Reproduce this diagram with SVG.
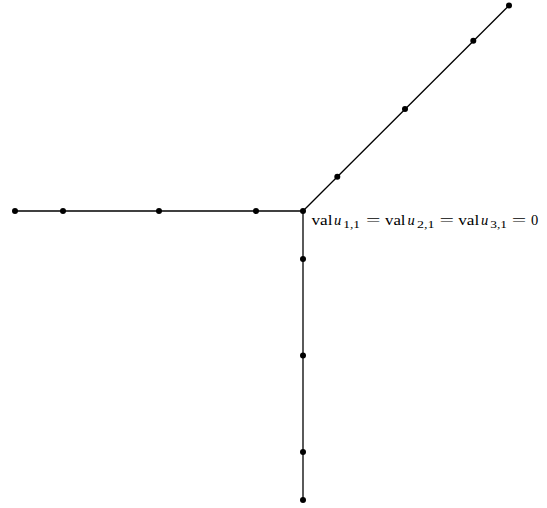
<svg xmlns="http://www.w3.org/2000/svg" width="547" height="508" viewBox="0 0 547 508">
<style>
.e{stroke:#000;stroke-width:1.3;fill:none}
.n{fill:#000}
.t{font-family:"Liberation Serif",serif;font-size:14.5px;fill:#000}
.i{font-style:italic}
.s{font-size:10.5px}
</style>
<rect width="547" height="508" fill="#fff"/>
<g id="connectors">
<line class="e" x1="15" y1="211" x2="303" y2="211"/>
<line class="e" x1="303" y1="211" x2="509" y2="5.5"/>
<line class="e" x1="303" y1="211" x2="303" y2="500"/>
</g>
<g id="n_center"><circle class="n" cx="303" cy="211" r="3"/></g>
<g id="n_l1"><circle class="n" cx="256" cy="211" r="3"/></g>
<g id="n_l2"><circle class="n" cx="159" cy="211" r="3"/></g>
<g id="n_l3"><circle class="n" cx="63" cy="211" r="3"/></g>
<g id="n_l4"><circle class="n" cx="15" cy="211" r="3"/></g>
<g id="n_d1"><circle class="n" cx="337.3" cy="176.8" r="3"/></g>
<g id="n_d2"><circle class="n" cx="405" cy="109" r="3"/></g>
<g id="n_d3"><circle class="n" cx="473.3" cy="40.8" r="3"/></g>
<g id="n_d4"><circle class="n" cx="509" cy="5.5" r="3"/></g>
<g id="n_v1"><circle class="n" cx="303" cy="259" r="3"/></g>
<g id="n_v2"><circle class="n" cx="303" cy="355.5" r="3"/></g>
<g id="n_v3"><circle class="n" cx="303" cy="452" r="3"/></g>
<g id="n_v4"><circle class="n" cx="303" cy="500" r="3"/></g>
<g id="label" class="t">
<text x="311.5" y="225.3" textLength="21" lengthAdjust="spacingAndGlyphs">val</text>
<text class="i" x="334" y="225.3">u</text>
<text class="s" x="343.3" y="228.3" textLength="16.7" lengthAdjust="spacingAndGlyphs">1,1</text>
<text x="366" y="225.3" textLength="14.5" lengthAdjust="spacingAndGlyphs">=</text>
<text x="385" y="225.3" textLength="20.5" lengthAdjust="spacingAndGlyphs">val</text>
<text class="i" x="407.5" y="225.3">u</text>
<text class="s" x="417" y="228.3" textLength="17.5" lengthAdjust="spacingAndGlyphs">2,1</text>
<text x="439.5" y="225.3" textLength="14.5" lengthAdjust="spacingAndGlyphs">=</text>
<text x="458.2" y="225.3" textLength="21" lengthAdjust="spacingAndGlyphs">val</text>
<text class="i" x="481" y="225.3">u</text>
<text class="s" x="490.3" y="228.3" textLength="16.7" lengthAdjust="spacingAndGlyphs">3,1</text>
<text x="511.8" y="225.3" textLength="14.5" lengthAdjust="spacingAndGlyphs">=</text>
<text x="531" y="225.3">0</text>
</g>
</svg>
